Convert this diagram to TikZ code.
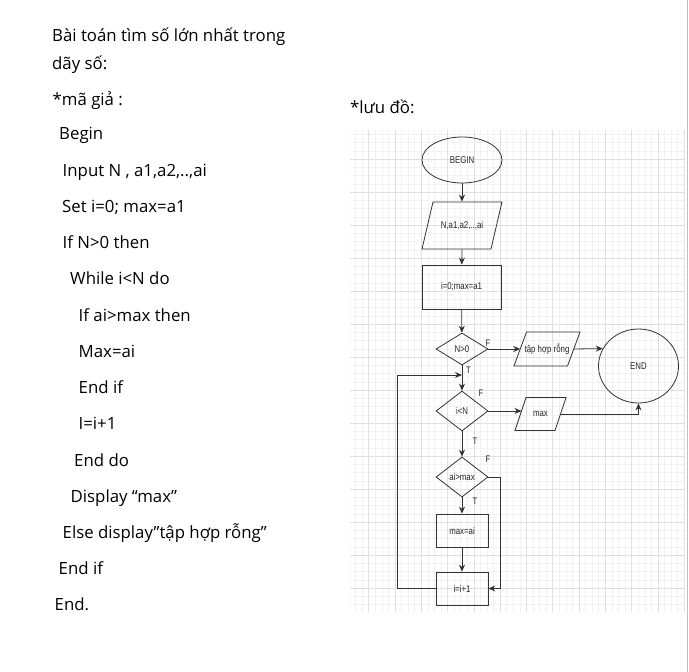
\documentclass[tikz,border=0pt]{standalone}
\usepackage{fontspec}
\setmainfont{Open Sans}
\newfontfamily\fcfont{Liberation Sans}[FakeStretch=0.8]
\usetikzlibrary{shapes.geometric,arrows.meta,calc}
\definecolor{fcline}{HTML}{333333}
\begin{document}
\begin{tikzpicture}[x=1pt,y=-1pt,
  txt/.style={anchor=base west,inner sep=0pt,font=\fontsize{16.8}{20}\selectfont},
  fc/.style={draw=fcline,line width=0.8pt,text=black!85,font=\fcfont\fontsize{9.8}{10}\selectfont,inner sep=0pt},
  term/.style={fc,ellipse},
  procbox/.style={fc,rectangle},
  dec/.style={fc,diamond,aspect=1.5},
  paratext/.style={fc,draw=none,rectangle},
  parashape/.style={draw=fcline,line width=0.8pt,line join=miter},
  arr/.style={draw=fcline,line width=0.8pt,-{Stealth[length=7pt,width=6pt]}},
  lbl/.style={text=black!85,font=\fcfont\fontsize{9.5}{10}\selectfont,inner sep=0pt},
  minorg/.style={draw=black!5,line width=0.5pt},
  majorg/.style={draw=black!12,line width=0.6pt}]
\useasboundingbox (0,0) rectangle (689,672);
\fill[white] (0,0) rectangle (689,672);
% grid
\begin{scope}
\clip (350,130) rectangle (685,612);
\foreach \i in {0,...,52} \draw[minorg] ({342.3+6.575*\i},130) -- ++(0,482);
\foreach \i in {0,...,60} \draw[minorg] (350,{126+8.25*\i}) -- ++(335,0);
\foreach \i in {0,...,13} \draw[majorg] ({342.3+26.3*\i},130) -- ++(0,482);
\foreach \i in {0,...,15} \draw[majorg] (350,{126+33*\i}) -- ++(335,0);
\end{scope}
\draw[draw=black!25,line width=0.8pt] (687.5,0) -- (687.5,672);
% texts
\node[txt] (t1) at (52,41.5) {Bài toán tìm số lớn nhất trong};
\node[txt] (t2) at (52,69) {dãy số:};
\node[txt] (t3) at (52.5,105) {*mã giả :};
\node[txt] (t4) at (350,113) {*lưu đồ:};
\node[txt] (c1) at (59,139) {Begin};
\node[txt] (c2) at (62.5,176) {Input N , a1,a2,..,ai};
\node[txt] (c3) at (62,212) {Set i=0; max=a1};
\node[txt] (c4) at (62.5,248) {If N>0 then};
\node[txt] (c5) at (70,284) {While i<N do};
\node[txt] (c6) at (78.5,321) {If ai>max then};
\node[txt] (c7) at (78.5,357) {Max=ai};
\node[txt] (c8) at (78.5,393) {End if};
\node[txt] (c9) at (78.5,429) {I=i+1};
\node[txt] (c10) at (74,466) {End do};
\node[txt] (c11) at (70.5,502) {Display “max”};
\node[txt] (c12) at (62.5,538) {Else display”tập hợp rỗng”};
\node[txt] (c13) at (58.5,574) {End if};
\node[txt] (c14) at (54.5,610) {End.};
% flowchart nodes
\node[term,minimum width=80pt,minimum height=46pt] (begin) at (462,160) {BEGIN};
% input parallelogram: total width 80, offset 11, height 47
\node[paratext,minimum width=58pt,minimum height=47pt] (inp) at (462,225.5) {N,a1,a2,..,ai};
\draw[parashape] ($(inp)+(-40,23.5)$) -- ($(inp)+(29,23.5)$) -- ($(inp)+(40,-23.5)$) -- ($(inp)+(-29,-23.5)$) -- cycle;
\node[procbox,minimum width=79pt,minimum height=44pt] (init) at (461.5,287) {i=0;max=a1};
\node[dec,minimum width=52pt,minimum height=32pt] (d1) at (462,349) {N>0};
% tap hop rong parallelogram: total width 66, offset 12.5, height 34
\node[paratext,minimum width=41pt,minimum height=34pt] (p1) at (547,349) {tập hợp rỗng};
\draw[parashape] ($(p1)+(-33,17)$) -- ($(p1)+(20.5,17)$) -- ($(p1)+(33,-17)$) -- ($(p1)+(-20.5,-17)$) -- cycle;
\coordinate (p1in) at ($(p1)+(-26.75,0)$);
\coordinate (p1out) at ($(p1)+(26.75,0)$);
\node[term,minimum width=80pt,minimum height=74pt] (end) at (638.5,366) {END};
\node[dec,minimum width=52pt,minimum height=40pt] (d2) at (462,411) {i<N};
% max parallelogram: total width 51, offset 11, height 33
\node[paratext,minimum width=29pt,minimum height=33pt] (p2) at (540.5,414) {max};
\draw[parashape] ($(p2)+(-25.5,16.5)$) -- ($(p2)+(14.5,16.5)$) -- ($(p2)+(25.5,-16.5)$) -- ($(p2)+(-14.5,-16.5)$) -- cycle;
\coordinate (p2in) at ($(p2)+(-19,-3)$);
\coordinate (p2out) at ($(p2)+(20,0)$);
\node[dec,minimum width=52pt,minimum height=40pt] (d3) at (462,477) {ai>max};
\node[procbox,minimum width=52pt,minimum height=33pt] (mx) at (462,530.5) {max=ai};
\node[procbox,minimum width=52pt,minimum height=33pt] (inc) at (462,588.5) {i=i+1};
\coordinate (lx) at (397,375);
\coordinate (rx) at (500,477);
% connectors
\draw[arr] (begin) -- (inp.north);
\draw[arr] (inp.south) -- (init);
\draw[arr] (init) -- (d1);
\draw[arr] (d1.east) -- (p1in);
\draw[arr] (p1out) -- (end.154);
\draw[arr] (d1) -- (d2);
\draw[arr] (inc.west) -| (lx) -- (d1.south |- lx);
\draw[arr] (d2.east) -- (p2in);
\draw[arr] (p2out) -| (end.south);
\draw[arr] (d2) -- (d3);
\draw[arr] (d3) -- (mx);
\draw[arr] (mx) -- (inc);
\draw[arr] (d3.east) -- (rx) |- (inc.east);
% labels
\node[lbl] (lf1) at (488,343) {F};
\node[lbl] (lt1) at (468.5,370) {T};
\node[lbl] (lf2) at (481,393) {F};
\node[lbl] (lt2) at (475,441) {T};
\node[lbl] (lf3) at (488,459) {F};
\node[lbl] (lt3) at (475,501) {T};
\end{tikzpicture}
\end{document}
